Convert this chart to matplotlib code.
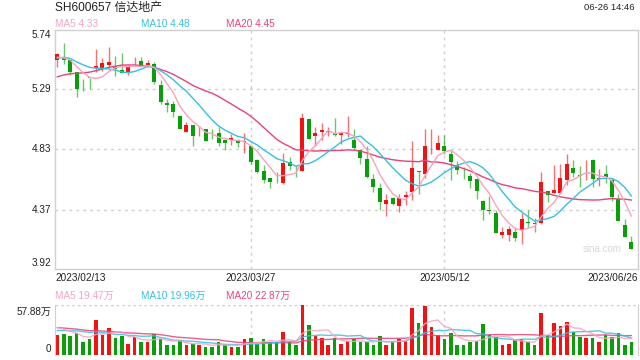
import numpy as np
import pandas as pd
import matplotlib
matplotlib.use("Agg")
import matplotlib.pyplot as plt

plt.rcParams['font.family'] = ['Liberation Sans', 'Noto Sans CJK SC', 'DejaVu Sans']

# ---------------- data ----------------
opens = [5.508, 5.534, 5.508, 5.418, 5.296, 5.375, 5.444, 5.444, 5.47, 5.465,
         5.431, 5.411, 5.50, 5.498, 5.472, 5.475, 5.321, 5.182, 5.172, 5.084,
         4.961, 5.017, 4.966, 4.982, 4.938, 4.956, 4.897, 4.897, 4.897, 4.886,
         4.858, 4.75, 4.663, 4.611, 4.582, 4.576, 4.73, 4.665, 4.668, 5.059,
         4.93, 4.964, 4.961, 4.956, 4.941, 4.946, 4.897, 4.828, 4.756, 4.601,
         4.534, 4.416, 4.462, 4.398, 4.47, 4.506, 4.66, 4.643, 4.837, 4.822,
         4.853, 4.794, 4.712, 4.635, 4.627, 4.604, 4.434, 4.365, 4.345, 4.175,
         4.175, 4.203, 4.219, 4.272, 4.265, 4.267, 4.509, 4.494, 4.499, 4.596,
         4.686, 4.632, 4.64, 4.75, 4.607, 4.64, 4.596, 4.45, 4.255, 4.126]
closes = [5.555, 5.508, 5.418, 5.29, 5.293, 5.372, 5.465, 5.483, 5.49, 5.439,
          5.413, 5.462, 5.503, 5.47, 5.483, 5.341, 5.187, 5.164, 5.11, 4.987,
          5.012, 4.93, 4.97, 4.892, 4.935, 4.879, 4.876, 4.915, 4.876, 4.889,
          4.73, 4.66, 4.599, 4.583, 4.579, 4.725, 4.699, 4.662, 5.064, 4.91,
          4.951, 4.977, 4.964, 4.938, 4.951, 4.949, 4.838, 4.761, 4.622, 4.545,
          4.429, 4.442, 4.416, 4.46, 4.483, 4.691, 4.657, 4.851, 4.84, 4.874,
          4.815, 4.732, 4.673, 4.632, 4.591, 4.514, 4.365, 4.362, 4.19, 4.2,
          4.226, 4.154, 4.301, 4.27, 4.262, 4.581, 4.486, 4.524, 4.612, 4.717,
          4.653, 4.63, 4.643, 4.601, 4.609, 4.622, 4.468, 4.288, 4.16, 4.075]
highs = [5.56, 5.64, 5.51, 5.418, 5.367, 5.375, 5.59, 5.526, 5.61, 5.537,
         5.56, 5.47, 5.529, 5.529, 5.506, 5.49, 5.354, 5.213, 5.198, 5.09,
         5.04, 5.017, 5.007, 4.987, 4.982, 5.0, 4.902, 4.948, 4.91, 4.951,
         4.858, 4.755, 4.714, 4.611, 4.658, 4.802, 4.768, 4.714, 5.105, 5.059,
         5.002, 5.028, 5.0, 5.064, 4.969, 5.079, 4.987, 4.833, 4.853, 4.643,
         4.571, 4.493, 4.468, 4.493, 4.511, 4.889, 4.668, 4.982, 4.982, 4.938,
         4.941, 4.828, 4.743, 4.694, 4.653, 4.604, 4.442, 4.473, 4.37, 4.242,
         4.249, 4.237, 4.345, 4.37, 4.308, 4.655, 4.509, 4.707, 4.717, 4.797,
         4.745, 4.699, 4.75, 4.755, 4.678, 4.707, 4.609, 4.493, 4.301, 4.167]
lows = [5.457, 5.478, 5.398, 5.226, 5.275, 5.285, 5.418, 5.426, 5.457, 5.388,
        5.41, 5.398, 5.47, 5.465, 5.457, 5.329, 5.174, 5.115, 5.072, 4.982,
        4.961, 4.853, 4.93, 4.892, 4.905, 4.853, 4.827, 4.861, 4.848, 4.802,
        4.72, 4.653, 4.576, 4.534, 4.576, 4.565, 4.673, 4.622, 4.668, 4.905,
        4.853, 4.897, 4.93, 4.93, 4.871, 4.923, 4.833, 4.717, 4.609, 4.506,
        4.365, 4.326, 4.403, 4.352, 4.406, 4.447, 4.488, 4.61, 4.797, 4.822,
        4.797, 4.596, 4.64, 4.604, 4.534, 4.45, 4.293, 4.34, 4.19, 4.155,
        4.13, 4.133, 4.108, 4.237, 4.203, 4.262, 4.427, 4.494, 4.494, 4.558,
        4.622, 4.54, 4.596, 4.545, 4.552, 4.576, 4.437, 4.283, 4.16, 4.075]
# volume in 万 (10k shares)
volumes = [22.7, 23.9, 21.9, 25.0, 14.5, 18.0, 40.3, 22.7, 30.9, 19.2,
           21.5, 13.3, 20.7, 15.6, 15.6, 23.9, 18.4, 12.1, 11.0, 17.6,
           12.1, 12.9, 11.3, 9.8, 9.8, 15.3, 11.3, 9.8, 9.8, 18.0,
           19.2, 12.9, 18.0, 14.5, 14.9, 26.2, 14.5, 11.0, 57.88, 34.4,
           21.5, 19.2, 12.1, 19.2, 13.3, 16.0, 18.0, 14.5, 15.3, 12.1,
           21.5, 12.1, 15.3, 18.0, 16.0, 54.4, 36.8, 56.7, 32.1, 22.7,
           18.0, 25.0, 12.1, 12.1, 14.5, 16.0, 35.6, 22.7, 20.3, 12.1,
           13.3, 16.8, 18.8, 14.5, 11.0, 48.5, 22.7, 36.8, 33.2, 37.9,
           26.6, 20.3, 19.2, 19.2, 15.6, 22.7, 20.3, 25.0, 12.1, 15.6]
# sessions before the window (estimated from the starting level of the MA lines)
prior_close = [5.22, 5.25, 5.20, 5.23, 5.27, 5.24, 5.22, 5.26, 5.25, 5.24,
               5.45, 5.50, 5.55, 5.52, 5.56, 5.53, 5.50, 5.54, 5.52]
prior_vol = [36, 34, 38, 33, 35, 37, 34, 36, 35, 34,
             25, 24, 26, 23, 27, 34, 33, 36, 33]

y_ticks = [3.92, 4.37, 4.83, 5.29, 5.74]
date_ticks = ["2023/02/13", "2023/03/27", "2023/05/12", "2023/06/26"]
price_legend = ["MA5 4.33", "MA10 4.48", "MA20 4.45"]
vol_legend = ["MA5 19.47万", "MA10 19.96万", "MA20 22.87万"]
title = "SH600657 信达地产"
stamp = "06-26 14:46"
vol_max = 57.88

# ---------------- styling ----------------
RED = "#f21212"
GREEN = "#0b9e0b"
C5, C10, C20 = "#f7a3c0", "#35c1e0", "#e8437a"
GRID = "#d0d0d0"
TXT = "#222222"

n = len(closes)
x = np.arange(n)
allc = pd.Series(prior_close + closes)
allv = pd.Series(prior_vol + volumes)
k = len(prior_close)
ma5 = allc.rolling(5).mean().values[k:]
ma10 = allc.rolling(10).mean().values[k:]
ma20 = allc.rolling(20).mean().values[k:]
vma5 = allv.rolling(5).mean().values[k:]
vma10 = allv.rolling(10).mean().values[k:]
vma20 = allv.rolling(20).mean().values[k:]

fig = plt.figure(figsize=(6.4, 3.6), dpi=100)
W, H = 640, 360
L, R = 55, 638
ax = fig.add_axes([L / W, 1 - 269 / H, (R - L) / W, (269 - 29.5) / H])
axv = fig.add_axes([L / W, 1 - 355 / H, (R - L) / W, (355 - 305) / H])

xlim = (-0.36, 90.03)
o = np.array(opens); c = np.array(closes); h = np.array(highs); lo = np.array(lows)
up = c >= o
cols = np.where(up, RED, GREEN)

# price candles
ax.vlines(x, lo, h, colors=cols, linewidth=1.0, alpha=0.6, zorder=2)
body_b = np.minimum(o, c)
body_h = np.maximum(np.abs(c - o), 0.004)
ax.bar(x, body_h, bottom=body_b, width=0.62, color=cols, linewidth=0, zorder=3)
ax.plot(x, ma20, color=C20, lw=1.0, zorder=4)
ax.plot(x, ma10, color=C10, lw=1.0, zorder=4)
ax.plot(x, ma5, color=C5, lw=1.0, zorder=4)

ax.set_xlim(*xlim)
ax.set_ylim(3.92, 5.74)
ax.set_xticks([]); ax.set_yticks([])
for s in ax.spines.values():
    s.set_color(GRID); s.set_linewidth(1.0)
for yv in y_ticks[1:-1]:
    ax.axhline(yv, color=GRID, lw=1.0, ls=(0, (2, 3)), zorder=1)
for xi in (30, 60):
    ax.axvline(xi, color=GRID, lw=1.0, ls=(0, (2, 3)), zorder=1)
    axv.axvline(xi, color=GRID, lw=1.0, ls=(0, (2, 3)), zorder=1)

# y labels
fs = 7.2
for yv in y_ticks:
    va = "center"
    if yv == y_ticks[-1]:
        va = "top"; ypos = yv - 0.005
    elif yv == y_ticks[0]:
        va = "bottom"; ypos = yv + 0.005
    else:
        ypos = yv
    ax.text(-0.007, ypos, f"{yv:.2f}", transform=ax.get_yaxis_transform(),
            ha="right", va=va, fontsize=fs, color=TXT)

# date labels
ytxt = 1 - 278 / H
fig.text(L / W, ytxt, date_ticks[0], ha="left", va="center", fontsize=fs, color=TXT)
for xi, lab in zip((30, 60), date_ticks[1:3]):
    xf = ax.transData.transform((xi, 0))[0] / fig.bbox.width
    fig.text(xf, ytxt, lab, ha="center", va="center", fontsize=fs, color=TXT)
fig.text(R / W, ytxt, date_ticks[3], ha="right", va="center", fontsize=fs, color=TXT)

# header
fig.text(L / W, 1 - 8 / H, title, ha="left", va="center", fontsize=8.6, color=TXT)
fig.text(634 / W, 1 - 8 / H, stamp, ha="right", va="center", fontsize=6.8, color=TXT)
ly = 1 - 24 / H
for xp, lab, col in zip((55, 141, 226), price_legend, (C5, C10, C20)):
    fig.text(xp / W, ly, lab, color=col, fontsize=fs, va="center")

# watermark
ax.text(602 / W, 1 - 249 / H, "sina.com", transform=fig.transFigure, ha="center",
        va="center", fontsize=7, color="#d8d8d8")

# volume
axv.bar(x, volumes, width=0.55, color=cols, linewidth=0, zorder=2)
axv.plot(x, vma20, color=C20, lw=1.0, alpha=0.85, zorder=3)
axv.plot(x, vma10, color=C10, lw=1.0, alpha=0.85, zorder=3)
axv.plot(x, vma5, color=C5, lw=1.0, alpha=0.85, zorder=3)
axv.set_xlim(*xlim)
axv.set_ylim(0, vol_max)
axv.set_xticks([]); axv.set_yticks([])
for side in ("left", "right"):
    axv.spines[side].set_color(GRID)
for side in ("top", "bottom"):
    axv.spines[side].set_visible(False)
axv.axhline(vol_max, color=GRID, lw=1.0, ls=(0, (2, 2)), zorder=1)
axv.axhline(0, color=GRID, lw=1.0, ls=(0, (2, 2)), zorder=1)
fig.text(51 / W, 1 - 312 / H, f"{vol_max:.2f}万", ha="right", va="center", fontsize=fs, color=TXT)
fig.text(51 / W, 1 - 349 / H, "0", ha="right", va="center", fontsize=fs, color=TXT)
vy = 1 - 296 / H
for xp, lab, col in zip((55, 141, 226), vol_legend, (C5, C10, C20)):
    fig.text(xp / W, vy, lab, color=col, fontsize=fs, va="center")

fig.savefig("out.png", dpi=100)
